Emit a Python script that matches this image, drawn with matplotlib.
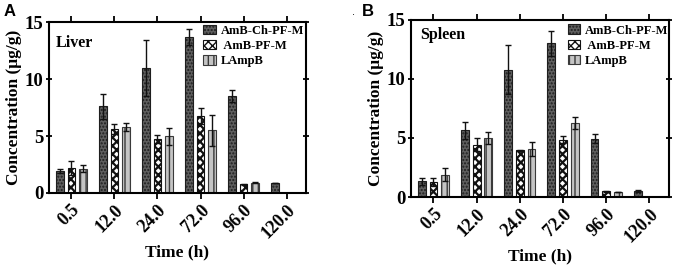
import matplotlib
matplotlib.use("Agg")
import matplotlib.pyplot as plt
import numpy as np

times = ["0.5", "12.0", "24.0", "72.0", "96.0", "120.0"]
series = ["AmB-Ch-PF-M", " AmB-PF-M", "LAmpB"]

liver_ch = [1.9, 7.6, 11.0, 13.7, 8.5, 0.88]
liver_ch_err = [0.18, 1.1, 2.45, 0.7, 0.5, 0.0]
liver_pf = [2.2, 5.6, 4.76, 6.76, 0.75, 0.0]
liver_pf_err = [0.6, 0.45, 0.36, 0.72, 0.05, 0.0]
liver_l = [2.15, 5.8, 4.97, 5.5, 0.91, 0.0]
liver_l_err = [0.32, 0.35, 0.77, 1.38, 0.05, 0.0]

spleen_ch = [1.32, 5.64, 10.8, 13.03, 4.94, 0.5]
spleen_ch_err = [0.3, 0.7, 2.05, 1.05, 0.4, 0.08]
spleen_pf = [1.24, 4.43, 3.95, 4.86, 0.5, 0.0]
spleen_pf_err = [0.33, 0.57, 0.07, 0.28, 0.05, 0.0]
spleen_l = [1.89, 4.97, 4.07, 6.27, 0.42, 0.0]
spleen_l_err = [0.56, 0.5, 0.62, 0.51, 0.03, 0.0]

SERIF = "Liberation Serif"

fig = plt.figure(figsize=(6.75, 2.65), dpi=100)
axA = fig.add_axes([0.0726, 0.2717, 0.3807, 0.645])
axB = fig.add_axes([0.6089, 0.2566, 0.382, 0.668])

styles = [
    dict(facecolor="#5e5e5e", edgecolor="#1e1e1e", hatch="....."),
    dict(facecolor="white", edgecolor="#111111", hatch="xxxx"),
    dict(facecolor="#c4c4c4", edgecolor="#3a3a3a", hatch="|||"),
]
hatch_lw = [1.0, 1.6, 1.0]

def draw(ax, data, errs, title, title_pos, leg_anchor):
    x = np.arange(len(times))
    off = 0.27
    w = 0.18
    handles = []
    for i, (vals, ee) in enumerate(zip(data, errs)):
        xs = x + (i - 1) * off
        with plt.rc_context({'hatch.linewidth': hatch_lw[i]}):
            b = ax.bar(xs, vals, width=w, linewidth=0.8, label=series[i], **styles[i])
        handles.append(b)
        mask = np.array(vals) > 0
        ax.errorbar(xs[mask], np.array(vals)[mask], yerr=np.array(ee)[mask],
                    fmt="none", ecolor="#111111", elinewidth=1.0, capsize=2, capthick=1.0)
    ax.set_xlim(-0.52, 5.45)
    ax.set_ylim(0, 15)
    ax.set_yticks([0, 5, 10, 15])
    ax.set_xticks(x)
    ax.set_xticklabels(times, rotation=45, ha="right", rotation_mode="anchor",
                       fontfamily=SERIF, fontweight="bold", fontsize=13)
    for lbl in ax.get_yticklabels():
        lbl.set_fontfamily(SERIF)
        lbl.set_fontweight("bold")
        lbl.set_fontsize(13.5)
    ax.tick_params(axis="both", direction="out", length=4, width=1.3, pad=2,
                   top=True, right=True)
    ax.tick_params(axis="y", which="both", right=True, direction="inout")
    for s in ax.spines.values():
        s.set_linewidth(1.5)
    ax.set_xlabel("Time (h)", fontfamily=SERIF, fontweight="bold", fontsize=12.5, labelpad=2)
    ax.set_ylabel("Concentration (μg/g)", fontfamily=SERIF, fontweight="bold", fontsize=12.5, labelpad=2)
    ax.text(title_pos[0], title_pos[1], title, transform=ax.transAxes,
            fontfamily=SERIF, fontweight="bold", fontsize=11.5, va="center", ha="left")
    ax.legend(handles=handles, loc="upper left", bbox_to_anchor=leg_anchor,
              frameon=False, prop=dict(family=SERIF, weight="bold", size=9),
              handlelength=1.0, handleheight=0.8, handletextpad=0.4,
              labelspacing=0.25, borderpad=0, borderaxespad=0)
    return ax

draw(axA, [liver_ch, liver_pf, liver_l], [liver_ch_err, liver_pf_err, liver_l_err],
     "Liver", (0.025, 0.875), (0.6, 0.985))
draw(axB, [spleen_ch, spleen_pf, spleen_l], [spleen_ch_err, spleen_pf_err, spleen_l_err],
     "Spleen", (0.035, 0.915), (0.608, 0.975))

fig.text(0.005, 0.985, "A", fontfamily="Liberation Sans", fontweight="bold", fontsize=12, va="top", ha="left")
fig.text(0.536, 0.985, "B", fontfamily="Liberation Sans", fontweight="bold", fontsize=12, va="top", ha="left")
fig.text(0.522, 0.955, ".", fontfamily="Liberation Sans", fontsize=8, va="center", ha="left")

fig.savefig("out.png", dpi=100)
